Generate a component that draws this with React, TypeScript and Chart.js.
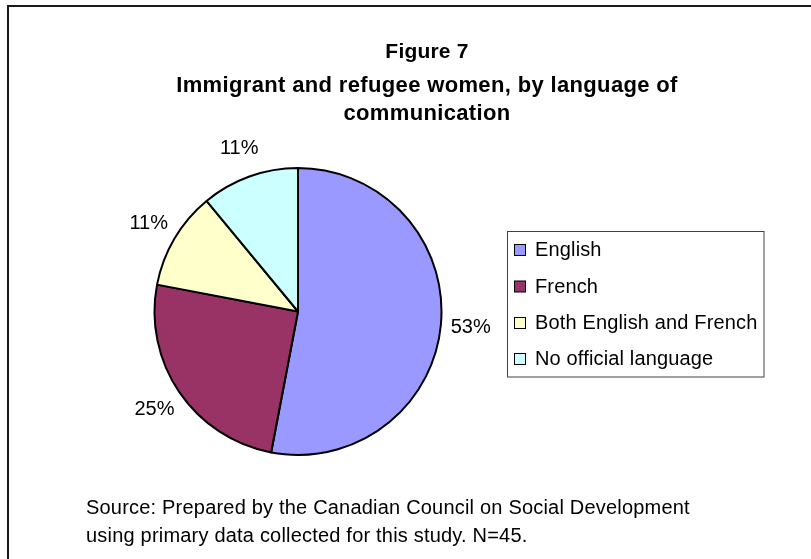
import React, { useEffect, useRef } from "react";
import { Chart, registerables } from "chart.js";

Chart.register(...registerables);

const categories = ["English", "French", "Both English and French", "No official language"];
const percentValues = [53, 25, 11, 11];
const sliceColors = ["#9999FF", "#993366", "#FFFFCC", "#CCFFFF"];
const titleLines = ["Figure 7", "Immigrant and refugee women, by language of", "communication"];
const sourceLines = [
  "Source: Prepared by the Canadian Council on Social Development",
  "using primary data collected for this study. N=45.",
];

const FONT = '"Liberation Sans", Arial, sans-serif';

const decorPlugin = {
  id: "decor",
  beforeDraw(chart: any) {
    const ctx = chart.ctx;
    ctx.save();
    ctx.fillStyle = "#ffffff";
    ctx.fillRect(0, 0, chart.width, chart.height);
    ctx.restore();
  },
  afterDraw(chart: any) {
    const ctx = chart.ctx;
    ctx.save();
    // outer frame
    ctx.strokeStyle = "#1a1a1a";
    ctx.lineWidth = 2;
    ctx.strokeRect(8, 6, 1000, 1000);

    // title
    ctx.fillStyle = "#000";
    ctx.textAlign = "left";
    ctx.textBaseline = "alphabetic";
    const tBase = [57.5, 91.5, 119.5];
    titleLines.forEach((t, i) => {
      if (i === 0) {
        ctx.font = `bold 21px ${FONT}`;
        ctx.letterSpacing = "0.2px";
      } else {
        ctx.font = `bold 22px ${FONT}`;
        ctx.letterSpacing = "0.35px";
      }
      const w = ctx.measureText(t).width;
      ctx.fillText(t, 427 - w / 2, tBase[i]);
    });

    // slice labels
    const meta = chart.getDatasetMeta(0);
    const data = chart.data.datasets[0].data;
    ctx.font = `20px ${FONT}`;
    ctx.letterSpacing = "0px";
    ctx.textAlign = "center";
    ctx.textBaseline = "middle";
    meta.data.forEach((arc: any, i: number) => {
      const mid = (arc.startAngle + arc.endAngle) / 2;
      const r = arc.outerRadius + 30;
      const x = arc.x + Math.cos(mid) * r;
      const y = arc.y + Math.sin(mid) * r;
      ctx.fillText(`${data[i]}%`, x, y);
    });

    // legend
    const lx = 507.5, ly = 231.5, lw = 256.5, lh = 145.5;
    ctx.strokeStyle = "#404040";
    ctx.lineWidth = 1;
    ctx.strokeRect(lx, ly, lw, lh);
    ctx.textAlign = "left";
    ctx.textBaseline = "alphabetic";
    ctx.letterSpacing = "0.15px";
    const bases = [256, 292.5, 329, 365];
    chart.data.labels.forEach((lab: string, i: number) => {
      const by = bases[i] - 11.5;
      ctx.fillStyle = chart.data.datasets[0].backgroundColor[i];
      ctx.fillRect(514.5, by, 11, 11);
      ctx.strokeStyle = "#000";
      ctx.lineWidth = 1;
      ctx.strokeRect(514.5, by, 11, 11);
      ctx.fillStyle = "#000";
      ctx.fillText(lab, 535, bases[i]);
    });

    // source
    ctx.font = `20px ${FONT}`;
    ctx.letterSpacing = "0.2px";
    ctx.fillText(sourceLines[0], 86, 513.5);
    ctx.fillText(sourceLines[1], 86, 541.5);
    ctx.restore();
  },
};

export default function App() {
  const ref = useRef<HTMLCanvasElement>(null);
  useEffect(() => {
    if (!ref.current) return;
    const chart = new Chart(ref.current, {
      type: "pie",
      data: {
        labels: categories,
        datasets: [
          {
            data: percentValues,
            backgroundColor: sliceColors,
            borderColor: "#000000",
            borderWidth: 2,
          },
        ],
      },
      options: {
        responsive: false,
        animation: false,
        devicePixelRatio: 1,
        radius: 143.5,
        layout: { padding: { left: 150, right: 811 - 446, top: 163.5, bottom: 559 - 459.5 } },
        plugins: {
          legend: { display: false },
          title: { display: false },
          tooltip: { enabled: false },
        },
      } as any,
      plugins: [decorPlugin],
    });
    return () => chart.destroy();
  }, []);
  return (
    <div style={{ position: "fixed", left: 0, top: 0, width: 811, height: 559, background: "#fff" }}>
      <canvas ref={ref} width={811} height={559} style={{ display: "block" }} />
    </div>
  );
}
